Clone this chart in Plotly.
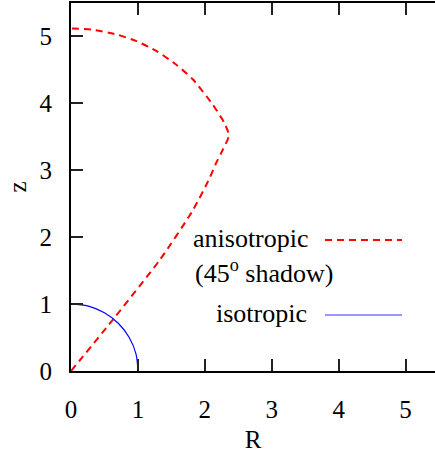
import plotly.graph_objects as go

# anisotropic (45° shadow) boundary
aniso_R = [0, 0.58, 1.32, 1.82, 2.07, 2.17, 2.27, 2.36, 2.29, 2.12, 1.82, 1.57, 1.28, 0.98, 0.68, 0.33, 0]
aniso_z = [0, 0.71, 1.65, 2.40, 2.88, 3.11, 3.31, 3.52, 3.71, 3.98, 4.36, 4.58, 4.78, 4.93, 5.03, 5.10, 5.12]

# isotropic boundary (unit quarter circle)
iso_R = [0, 0.26, 0.50, 0.71, 0.87, 0.97, 1.0]
iso_z = [1.0, 0.97, 0.87, 0.71, 0.50, 0.26, 0]

tick_vals = [0, 1, 2, 3, 4, 5]
tick_text = ["0", "1", "2", "3", "4", "5"]

FONT = "Liberation Serif"
FS = 25
FS_LEG = 26

fig = go.Figure()
fig.add_trace(go.Scatter(x=aniso_R, y=aniso_z, mode="lines",
                         line_shape="spline",
                         line=dict(color="#ff0000", width=2, dash="7px,5px", smoothing=0.6),
                         showlegend=False))
fig.add_trace(go.Scatter(x=iso_R, y=iso_z, mode="lines", line_shape="spline",
                         line=dict(color="#0000ff", width=1.2),
                         showlegend=False))

axis_common = dict(
    showgrid=False, zeroline=False, ticks="inside", ticklen=12, tickwidth=1.5,
    tickcolor="#222222", linecolor="black", linewidth=2, showline=True,
    tickvals=tick_vals, ticktext=tick_text, automargin=False,
    tickfont=dict(family=FONT, size=FS, color="black"),
)

fig.update_layout(
    width=435, height=453,
    margin=dict(l=71, r=0, t=3, b=82),
    paper_bgcolor="white", plot_bgcolor="white",
    font=dict(family=FONT, size=FS, color="black"),
    xaxis=dict(range=[0, 5.44], mirror="ticks", ticklabelstandoff=15,
               title=dict(text="R", font=dict(family=FONT, size=FS), standoff=9),
               **axis_common),
    yaxis=dict(range=[0, 5.5], ticklabelstandoff=12,
               title=dict(text="z", font=dict(family=FONT, size=FS), standoff=6),
               **axis_common),
    yaxis2=dict(range=[0, 5.5], overlaying="y", side="right", showgrid=False,
                zeroline=False, showline=False, ticks="inside", ticklen=8,
                tickwidth=1.5, tickcolor="#222222", tickvals=tick_vals,
                showticklabels=False, automargin=False),
)

def px_x(p):
    return (p - 71) / 364.0

def px_y(p):
    return (371 - p) / 368.0

fig.add_annotation(x=px_x(311), y=px_y(238), xref="paper", yref="paper",
                   text="anisotropic", showarrow=False, xanchor="right", yanchor="middle",
                   font=dict(family=FONT, size=FS_LEG))
fig.add_annotation(x=px_x(193), y=px_y(271), xref="paper", yref="paper",
                   text="(45<sup>o</sup> shadow)", showarrow=False, xanchor="left", yanchor="middle",
                   font=dict(family=FONT, size=FS_LEG))
fig.add_annotation(x=px_x(309), y=px_y(313), xref="paper", yref="paper",
                   text="isotropic", showarrow=False, xanchor="right", yanchor="middle",
                   font=dict(family=FONT, size=FS_LEG))

fig.add_shape(type="line", xref="paper", yref="paper",
              x0=px_x(325), x1=px_x(402), y0=px_y(240), y1=px_y(240),
              line=dict(color="#ff0000", width=2, dash="7px,5px"))
fig.add_shape(type="line", xref="paper", yref="paper",
              x0=px_x(325), x1=px_x(402), y0=px_y(315), y1=px_y(315),
              line=dict(color="#3333ff", width=1.2))

fig.write_html("out.html", config={"displayModeBar": False},
               post_script="document.body.style.margin='0';")
